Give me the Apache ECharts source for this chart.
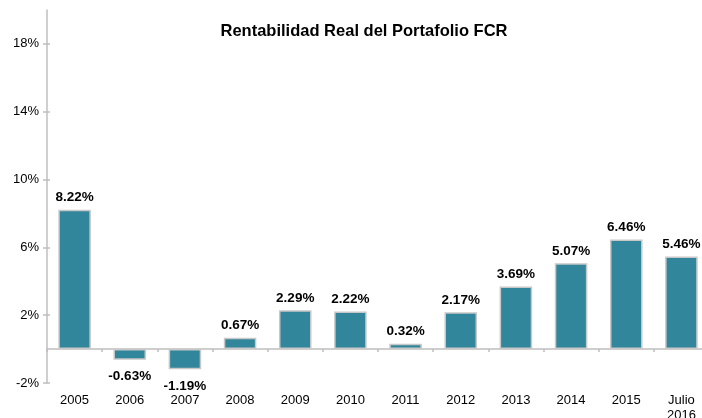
<!DOCTYPE html>
<html>
<head>
<meta charset="utf-8">
<script src="https://cdn.jsdelivr.net/npm/echarts@6/dist/echarts.min.js"></script>
<style>
  html, body { margin: 0; padding: 0; background: #fff; }
  #chart { width: 702px; height: 418px; }
</style>
</head>
<body>
<div id="chart"></div>
<script>
// categorías y valores (%)
const categories = ['2005', '2006', '2007', '2008', '2009', '2010', '2011', '2012', '2013', '2014', '2015', 'Julio\n2016'];
const values = [8.22, -0.63, -1.19, 0.67, 2.29, 2.22, 0.32, 2.17, 3.69, 5.07, 6.46, 5.46];
const yTicks = [-2, 2, 6, 10, 14, 18];

const chart = echarts.init(document.getElementById('chart'));
const font = 'Liberation Sans, Arial, sans-serif';
const axisGrey = '#bfbfbf';

chart.setOption({
  backgroundColor: '#fff',
  animation: false,
  title: {
    text: 'Rentabilidad Real del Portafolio FCR',
    left: 359,
    top: 18,
    textAlign: 'center',
    textStyle: { fontFamily: font, fontSize: 16.5, fontWeight: 'bold', color: '#000' }
  },
  // el área del gráfico se sale un poco por la derecha, como en el original
  grid: { left: 47, top: 10, bottom: 35, width: 662, outerBoundsMode: 'none', containLabel: false },
  xAxis: [
    {
      type: 'category',
      data: categories,
      axisLine: { onZero: true, lineStyle: { color: axisGrey, width: 1.5 } },
      axisTick: { show: true, length: 3, lineStyle: { color: axisGrey, width: 1.5 } },
      axisLabel: { show: false }
    },
    {
      type: 'category',
      data: categories,
      position: 'bottom',
      axisLine: { show: false, onZero: false },
      axisTick: { show: false },
      axisLabel: { fontFamily: font, fontSize: 13, color: '#000', margin: 10, lineHeight: 15 }
    },
    {
      // marcas hacia dentro (cruzan la línea del cero)
      type: 'category',
      data: categories,
      axisLine: { show: false, onZero: true },
      axisTick: { show: true, inside: true, length: 3, lineStyle: { color: axisGrey, width: 1.5 } },
      axisLabel: { show: false }
    }
  ],
  yAxis: [
    {
      type: 'value',
      min: -2,
      max: 20,
      axisLine: { show: true, lineStyle: { color: axisGrey, width: 1.5 } },
      axisTick: { show: true, length: 4, customValues: yTicks, lineStyle: { color: axisGrey, width: 1.5 } },
      axisLabel: {
        customValues: yTicks,
        formatter: '{value}%',
        fontFamily: font,
        fontSize: 13,
        color: '#000',
        margin: 8
      },
      splitLine: { show: false }
    },
    {
      type: 'value',
      position: 'left',
      min: -2,
      max: 20,
      axisLine: { show: false },
      axisTick: { show: true, inside: true, length: 3, customValues: yTicks, lineStyle: { color: axisGrey, width: 1.5 } },
      axisLabel: { show: false },
      splitLine: { show: false }
    }
  ],
  series: [{
    type: 'bar',
    xAxisIndex: 0,
    yAxisIndex: 0,
    data: values.map(v => ({ value: v, label: { distance: v < 0 ? 10 : 5 } })),
    barWidth: '59%',
    itemStyle: { color: '#31869b', borderColor: '#c8c8c8', borderWidth: 1.5 },
    label: {
      show: true,
      position: 'outside',
      formatter: p => p.value.toFixed(2) + '%',
      fontFamily: font,
      fontSize: 13.5,
      fontWeight: 'bold',
      color: '#000'
    }
  }]
});
</script>
</body>
</html>
